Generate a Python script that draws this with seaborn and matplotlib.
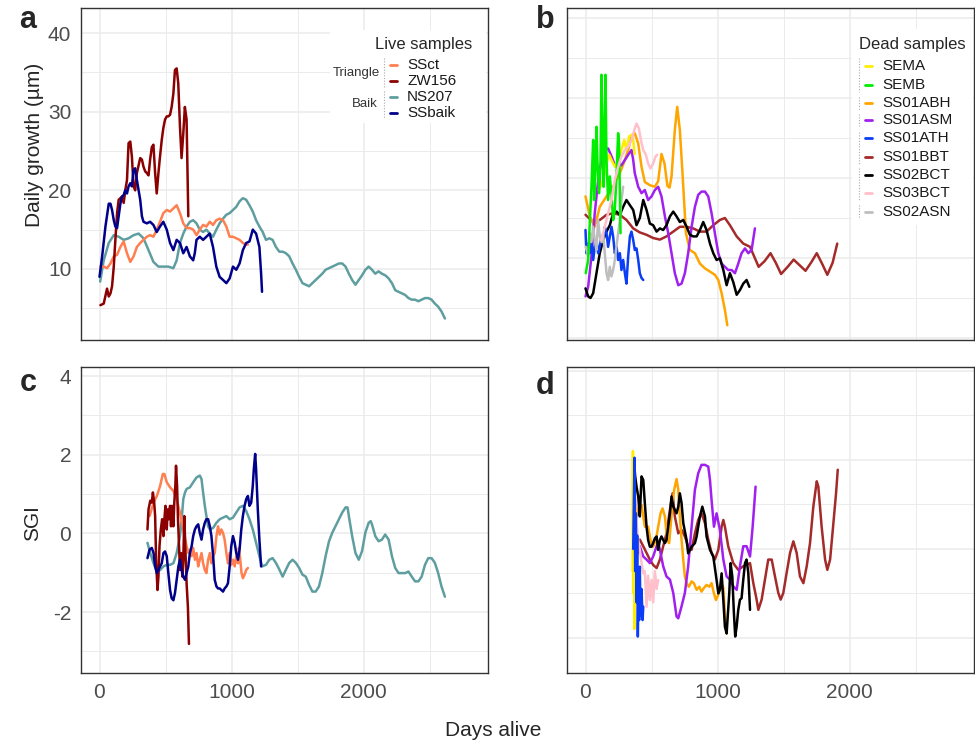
import pandas as pd
import matplotlib.pyplot as plt
import seaborn as sns
from matplotlib.lines import Line2D
from matplotlib.patches import Rectangle

# ==============================
# DATA : live samples (panel a = daily growth, panel c = SGI)
# ==============================
ssct_days = [7, 32, 57, 83, 108, 133, 158, 183, 208, 233, 258, 283, 308, 333, 358, 383, 408, 433, 458, 483,
             509, 534, 559, 584, 609, 634, 659, 684, 709, 734, 759, 784, 809, 834, 859, 884, 909, 935, 960, 985,
             1010, 1035, 1060, 1085, 1110, 1123]
ssct_growth = [10.3, 10.3, 10.1, 10.7, 11.6, 11.8, 12.8, 13.5, 12.0, 10.9, 11.6, 12.8, 13.3, 13.7, 14.1, 14.3, 14.1,
               15.0, 16.0, 17.1, 17.5, 17.3, 17.7, 18.1, 17.1, 15.8, 15.2, 15.2, 15.0, 14.3, 15.0, 15.6, 15.4, 16.0,
               15.6, 16.2, 16.4, 16.2, 15.4, 14.1, 14.1, 13.9, 13.7, 13.3, 13.1, 13.1]

zw156_days = [7, 32, 57, 70, 83, 95, 108, 120, 133, 145, 158, 170, 183, 195, 208, 220, 233, 245, 258, 270,
              283, 296, 308, 321, 333, 346, 358, 371, 383, 396, 408, 421, 433, 446, 458, 471, 483, 496, 509, 521,
              534, 546, 559, 571, 584, 596, 609, 621, 634, 646, 659, 672]
zw156_growth = [5.4, 5.6, 7.5, 6.5, 6.9, 7.8, 10.3, 13.7, 17.1, 18.8, 19.0, 19.2, 18.4, 20.0, 21.3, 26.0, 26.2, 24.3,
                20.5, 20.0, 22.2, 23.2, 24.1, 23.9, 23.0, 22.4, 22.2, 21.9, 23.9, 25.5, 25.8, 22.2, 19.6, 22.2, 24.3,
                26.4, 27.9, 29.0, 29.4, 29.4, 29.6, 30.6, 32.3, 35.3, 35.5, 33.6, 28.1, 24.1, 27.2, 30.6, 29.0, 16.7]

ns207_days = [5, 32, 70, 108, 145, 183, 220, 258, 296, 333, 371, 408, 446, 483, 521, 559, 584, 609, 634, 659,
              684, 709, 734, 759, 784, 809, 834, 859, 884, 909, 935, 960, 985, 1010, 1035, 1060, 1085, 1110, 1135,
              1160, 1185, 1210, 1235, 1260, 1285, 1310, 1335, 1361, 1386, 1411, 1436, 1461, 1486, 1511, 1536, 1586,
              1611, 1636, 1661, 1686, 1711, 1762, 1812, 1837, 1862, 1887, 1912, 1937, 1962, 1987, 2012, 2037, 2062,
              2087, 2112, 2137, 2162, 2188, 2213, 2238, 2263, 2288, 2313, 2338, 2363, 2388, 2413, 2438, 2463, 2488,
              2513, 2538, 2563, 2588, 2614]
ns207_growth = [8.4, 11.1, 13.3, 14.3, 14.1, 13.7, 13.9, 14.3, 14.5, 13.9, 12.4, 10.9, 10.3, 10.3, 10.3, 10.1, 11.1,
                13.3, 14.5, 15.4, 16.0, 16.2, 15.8, 15.0, 14.7, 15.0, 14.5, 14.1, 15.0, 15.8, 16.4, 16.9, 17.1, 17.5,
                17.9, 18.6, 19.0, 18.8, 18.1, 17.3, 16.2, 15.4, 14.7, 13.7, 13.9, 13.7, 12.8, 12.2, 12.2, 12.0, 11.6,
                10.7, 9.9, 9.0, 8.2, 7.8, 8.2, 8.6, 9.0, 9.4, 9.9, 10.3, 10.7, 10.7, 10.3, 9.4, 8.6, 8.0, 8.6, 9.2,
                9.9, 10.3, 9.9, 9.4, 9.7, 9.4, 9.2, 8.8, 8.2, 7.3, 7.1, 6.9, 6.7, 6.3, 6.1, 6.1, 5.9, 6.1, 6.3, 6.3,
                6.1, 5.6, 5.2, 4.6, 3.7]

ssbaik_days = [0, 20, 45, 70, 83, 95, 108, 120, 133, 145, 158, 170, 183, 195, 208, 220, 233, 245, 258, 270,
               283, 296, 308, 321, 333, 358, 383, 408, 433, 458, 483, 509, 534, 559, 584, 609, 634, 659, 684, 709,
               721, 734, 759, 784, 809, 834, 859, 884, 909, 935, 960, 985, 1010, 1035, 1060, 1085, 1110, 1135, 1160,
               1185, 1210, 1223, 1230]
ssbaik_growth = [9.0, 11.6, 15.4, 18.3, 18.3, 17.5, 16.2, 15.4, 15.2, 16.7, 18.3, 19.2, 19.4, 20.0, 19.6, 20.5, 20.9,
                 20.5, 22.6, 22.8, 21.3, 20.0, 18.8, 16.7, 16.0, 15.8, 16.0, 15.6, 14.7, 15.4, 16.0, 15.0, 13.3, 12.4,
                 13.7, 13.3, 12.0, 12.8, 11.6, 11.1, 12.0, 13.7, 14.1, 13.7, 14.1, 14.5, 12.8, 10.3, 9.0, 8.6, 8.2,
                 8.8, 10.3, 9.9, 10.7, 12.4, 13.3, 13.5, 15.0, 14.5, 12.8, 9.4, 7.1]

ssct_sgi_days = [379, 409, 434, 459, 479, 491, 509, 534, 559, 584, 609, 634, 659, 672, 684, 697, 709, 722, 734, 747,
                 759, 772, 784, 797, 809, 822, 835, 847, 860, 872, 885, 897, 910, 922, 935, 947, 960, 972, 985, 997,
                 1010, 1023, 1035, 1048, 1055, 1065, 1075, 1085, 1098, 1110, 1123]
ssct_sgi = [0.44, 0.78, 0.95, 1.21, 1.51, 1.51, 1.30, 1.17, 1.08, 0.87, 0.53, 0.10, -0.33, -0.50, -0.41, -0.58, -0.37,
            -0.67, -0.50, -0.84, -0.67, -0.50, -0.76, -0.93, -1.01, -0.67, -0.50, -0.76, -0.58, -0.50, -0.07, 0.18,
            -0.03, 0.10, 0.01, -0.16, -0.50, -0.76, -0.50, -0.80, -0.67, -0.84, -0.58, -0.76, -0.37, -0.67, -1.01,
            -1.14, -1.05, -0.93, -0.88]

zw156_sgi_days = [363, 371, 384, 396, 404, 414, 421, 429, 439, 446, 454, 464, 474, 484, 491, 499, 509, 516, 524, 534,
                  541, 549, 559, 566, 574, 579, 587, 594, 602, 609, 617, 627, 634, 642, 649, 659, 669, 677]
zw156_sgi = [0.10, 0.61, 0.83, 0.78, 1.04, 0.78, 0.44, -0.76, -1.44, -1.10, -0.33, 0.10, 0.36, -0.07, 0.36, 0.70,
             0.10, 0.61, 0.36, 0.70, 0.18, 0.70, 0.18, 0.78, 1.21, 1.72, 1.21, 0.36, -0.33, -0.93, -0.50, -1.10,
             -0.67, 0.44, -0.33, -1.27, -1.87, -2.81]

ns207_sgi_days = [363, 384, 409, 434, 459, 484, 509, 534, 559, 584, 609, 622, 634, 647, 659, 684, 709, 734, 759, 772,
                  784, 797, 809, 822, 835, 860, 885, 910, 935, 960, 985, 1010, 1035, 1060, 1085, 1110, 1135, 1160,
                  1185, 1210, 1230, 1260, 1285, 1310, 1335, 1361, 1386, 1411, 1436, 1461, 1486, 1511, 1536, 1561,
                  1586, 1611, 1636, 1661, 1686, 1711, 1737, 1762, 1787, 1812, 1837, 1862, 1877, 1887, 1912, 1937,
                  1962, 1987, 2012, 2037, 2052, 2062, 2087, 2112, 2137, 2162, 2188, 2213, 2238, 2263, 2288, 2313,
                  2338, 2363, 2388, 2413, 2438, 2463, 2488, 2513, 2538, 2563, 2588, 2614]
ns207_sgi = [-0.24, -0.50, -0.76, -0.97, -0.93, -0.84, -0.80, -0.80, -0.76, -0.50, -0.07, 0.36, 0.87, 1.04, 1.13,
             1.17, 1.30, 1.42, 1.47, 1.38, 1.04, 0.70, 0.44, 0.18, 0.10, 0.14, 0.27, 0.36, 0.40, 0.44, 0.36, 0.40,
             0.53, 0.66, 0.70, 0.57, 0.36, 0.10, -0.24, -0.58, -0.84, -0.80, -0.67, -0.63, -0.75, -0.92, -1.10,
             -0.92, -0.75, -0.67, -0.75, -0.88, -1.05, -1.10, -1.31, -1.48, -1.48, -1.35, -1.01, -0.58, -0.20, 0.02,
             0.19, 0.36, 0.53, 0.66, 0.66, 0.44, -0.07, -0.50, -0.67, -0.45, 0.02, 0.27, 0.31, 0.23, -0.07, -0.20,
             -0.16, -0.03, -0.16, -0.58, -0.88, -1.01, -1.01, -1.01, -0.97, -1.10, -1.22, -1.22, -1.10, -0.80,
             -0.63, -0.63, -0.75, -1.01, -1.35, -1.61]

ssbaik_sgi_days = [363, 379, 396, 409, 421, 434, 446, 459, 471, 484, 496, 509, 521, 534, 546, 559, 571, 584, 597, 609,
                   622, 634, 647, 659, 672, 684, 697, 709, 722, 734, 747, 759, 772, 784, 797, 809, 822, 835, 847, 860,
                   872, 885, 897, 910, 922, 935, 947, 960, 972, 985, 997, 1010, 1023, 1035, 1048, 1060, 1073, 1085,
                   1098, 1110, 1123, 1135, 1148, 1160, 1168, 1178, 1185, 1198, 1210, 1223]
ssbaik_sgi = [-0.63, -0.41, -0.37, -0.50, -0.84, -1.01, -0.93, -0.84, -0.76, -0.50, -0.46, -0.58, -1.01, -1.44, -1.65,
              -1.70, -1.52, -1.18, -0.84, -0.67, -0.93, -1.10, -1.18, -1.01, -0.84, -0.50, -0.33, -0.07, 0.10, 0.18,
              0.23, 0.01, -0.16, 0.10, 0.27, 0.36, 0.36, 0.18, -0.07, -0.58, -1.18, -1.35, -1.40, -1.40, -1.44,
              -1.48, -1.40, -1.35, -1.27, -0.84, -0.33, -0.07, -0.24, -0.50, -0.67, -0.41, 0.10, 0.44, 0.70, 0.87,
              0.95, 0.70, 0.78, 1.21, 1.64, 2.02, 1.64, 0.61, -0.16, -0.84]

# ==============================
# DATA : dead samples (panel b = daily growth, panel d = SGI)
# ==============================
sema_days = [100, 134, 159, 179, 197, 222, 247, 272, 293, 310, 330, 348, 361, 372]
sema_growth = [18.5, 19.75, 21.8, 22.9, 22.25, 21.4, 22.25, 23.5, 24.75, 23.5, 25.2, 25.4, 24.75, 23.0]

semb_days = [2, 20, 32, 45, 58, 65, 75, 83, 90, 103, 113, 121, 128, 138, 151, 159, 171, 184, 196, 209, 222, 234,
             247, 254, 265]
semb_growth = [8.1, 9.75, 14.3, 18.9, 24.75, 17.25, 21.0, 26.4, 22.25, 18.1, 21.4, 32.9, 26.4, 18.9, 32.9, 22.25,
               17.25, 20.2, 18.1, 14.75, 16.0, 20.2, 25.6, 24.3, 13.1]

ss01abh_days = [0, 33, 70, 108, 159, 209, 260, 298, 323, 348, 373, 399, 424, 449, 487, 525, 550, 575, 598, 620,
                636, 651, 676, 694, 714, 734, 760, 790, 828, 866, 904, 942, 979, 1005, 1030, 1055, 1073]
ss01abh_growth = [17.7, 15.2, 13.9, 16.4, 17.7, 18.9, 20.6, 22.25, 23.5, 25.2, 25.6, 24.3, 21.4, 19.5, 19.1, 18.9,
                  19.6, 23.0, 21.8, 19.0, 18.8, 20.2, 26.0, 28.9, 26.0, 20.6, 13.1, 11.0, 10.6, 9.3, 8.7, 8.3, 7.9,
                  7.25, 5.6, 3.5, 1.6]

ss01asm_days = [0, 20, 45, 70, 96, 121, 146, 171, 197, 222, 247, 272, 298, 323, 348, 361, 373, 399, 424, 449,
                474, 500, 525, 550, 575, 601, 626, 651, 676, 702, 727, 752, 777, 803, 828, 853, 878, 904, 929, 954,
                979, 1005, 1030, 1055, 1080, 1106, 1131, 1156, 1181, 1207, 1232, 1257, 1282]
ss01asm_growth = [5.2, 6.4, 10.2, 15.6, 19.75, 22.25, 23.5, 23.7, 22.7, 21.6, 21.6, 21.6, 22.25, 22.9, 23.5, 22.25,
                  20.6, 18.9, 18.1, 18.5, 17.25, 17.7, 18.5, 18.9, 17.7, 15.2, 13.1, 10.6, 8.1, 6.6, 6.8, 8.1, 10.6,
                  13.9, 16.4, 17.9, 18.3, 18.3, 17.7, 15.6, 13.1, 10.6, 9.3, 8.9, 8.5, 8.5, 8.1, 9.3, 10.6, 11.2, 10.6,
                  11.0, 13.7]

ss01ath_days = [0, 7, 20, 33, 45, 58, 70, 83, 96, 108, 121, 134, 146, 159, 171, 184, 197, 209, 222, 235, 247, 260,
                272, 285, 298, 310, 323, 336, 348, 361, 373, 386, 399, 411, 424, 437]
ss01ath_growth = [13.5, 10.6, 11.8, 10.6, 12.25, 9.75, 11.4, 12.25, 10.6, 11.4, 12.7, 12.25, 13.9, 13.1, 11.4, 12.7,
                  13.9, 12.7, 10.6, 11.4, 9.75, 10.6, 8.5, 9.75, 8.1, 6.8, 10.2, 12.7, 13.3, 12.25, 11.0, 11.2, 9.75,
                  8.1, 7.5, 7.25]

ss01bbt_days = [0, 58, 108, 159, 209, 260, 310, 361, 411, 462, 512, 563, 613, 664, 714, 765, 815, 866, 916, 967,
                1017, 1055, 1093, 1144, 1194, 1245, 1310, 1355, 1400, 1440, 1480, 1530, 1575, 1620, 1665, 1710,
                1750, 1790, 1830, 1870, 1905]
ss01bbt_growth = [15.4, 14.5, 14.75, 15.4, 15.6, 15.4, 14.75, 13.7, 13.2, 12.9, 12.5, 12.3, 12.7, 13.3, 13.9, 13.9,
                  13.7, 13.3, 13.3, 14.1, 14.75, 15.0, 14.1, 12.7, 11.8, 11.4, 8.9, 9.6, 10.6, 9.4, 8.0, 8.9, 9.8,
                  9.1, 8.4, 9.5, 10.6, 9.3, 7.9, 9.4, 11.8]

ss02bct_days = [0, 20, 38, 58, 83, 108, 134, 159, 184, 209, 235, 260, 285, 310, 336, 361, 386, 411, 437, 462,
                487, 512, 538, 563, 588, 613, 639, 664, 689, 714, 740, 765, 790, 815, 841, 866, 891, 916, 942, 967,
                992, 1017, 1043, 1068, 1093, 1118, 1144, 1169, 1194, 1219, 1240]
ss02bct_growth = [6.2, 5.2, 5.0, 5.6, 8.1, 10.6, 12.25, 13.3, 14.1, 15.6, 15.8, 15.4, 16.4, 17.25, 16.6, 16.0, 14.1,
                  15.0, 17.25, 16.0, 14.3, 14.1, 13.3, 13.7, 13.5, 14.1, 15.2, 15.8, 15.2, 14.5, 14.75, 13.9, 12.9,
                  12.7, 12.7, 13.5, 14.5, 13.5, 11.8, 10.6, 9.75, 9.96, 8.5, 6.6, 8.1, 7.0, 5.4, 6.0, 6.8, 7.25, 6.4]

ss03bct_days = [121, 146, 171, 197, 222, 247, 272, 298, 323, 348, 373, 386, 404, 419, 437, 457, 474, 492, 512, 530,
                543]
ss03bct_growth = [12.25, 13.9, 15.6, 17.25, 19.75, 21.4, 22.7, 23.5, 23.9, 24.75, 26.2, 26.8, 26.2, 24.75, 23.5,
                  22.9, 21.8, 21.2, 21.8, 22.7, 22.9]

ss02asn_days = [2, 20, 32, 45, 58, 70, 83, 95, 108, 121, 133, 146, 159, 171, 184, 196, 209, 222, 234, 247, 260,
                272, 285]
ss02asn_growth = [11.4, 10.2, 13.1, 12.0, 13.9, 12.25, 11.0, 14.75, 12.7, 12.0, 13.1, 10.6, 8.1, 7.25, 8.9, 7.7,
                  8.5, 9.75, 11.4, 13.1, 14.75, 17.25, 18.9]

sema_sgi_days = [357, 359, 361, 363, 365, 367, 369, 371]
sema_sgi = [-0.5, 2.2, 0.3, 1.6, -1.0, 0.8, -1.8, -0.9]

ss01abh_sgi_days = [368, 386, 404, 424, 449, 474, 492, 512, 533, 550, 568, 583, 601, 618, 633, 646, 659, 671, 689,
                    702, 714, 727, 740, 752, 765, 782, 803, 820, 841, 861, 878, 896, 916, 937, 954, 972, 987, 1005,
                    1017, 1030, 1043, 1055, 1068]
ss01abh_sgi = [0.50, 0.73, 0.95, 0.99, 0.50, 0.50, 0.20, 0.05, 0.20, 0.50, 0.80, 0.91, 0.73, 0.20, 0.13, 0.58, 1.03,
               1.33, 1.57, 1.33, 0.73, 0.20, -0.25, -0.62, -0.77, -0.85, -0.73, -0.77, -0.92, -0.85, -0.96, -0.88,
               -0.81, -0.85, -0.77, -1.00, -1.15, -1.03, -0.92, -0.77, -0.88, -1.45, -1.90]

ss01asm_sgi_days = [361, 368, 378, 386, 399, 411, 437, 462, 487, 512, 538, 550, 563, 588, 613, 639, 664, 689, 702,
                    727, 752, 777, 803, 828, 853, 878, 904, 929, 942, 954, 972, 992, 1017, 1043, 1068, 1093, 1118,
                    1144, 1169, 1194, 1219, 1245, 1265, 1287]
ss01asm_sgi = [1.10, 1.40, 0.88, 0.21, -0.09, 0.06, -0.17, -0.24, -0.32, -0.17, 0.06, 0.13, -0.02, -0.39, -0.62,
               -0.69, -0.99, -1.52, -1.56, -1.29, -0.99, -0.39, 0.50, 1.33, 1.70, 1.89, 1.89, 1.85, 1.55, 1.10, 0.50,
               0.80, 0.43, -0.24, -0.62, -0.69, -0.84, -0.92, -0.39, 0.06, 0.06, -0.17, 0.50, 1.40]

ss01ath_sgi_days = [361, 366, 371, 376, 381, 386, 391, 396, 401, 406, 411, 416, 424, 432, 437]
ss01ath_sgi = [0.0, 1.0, 2.05, -0.5, 0.8, -1.2, 0.3, -1.97, -0.8, -1.6, -0.4, -1.5, -0.9, -1.6, -1.3]

ss01bbt_sgi_days = [366, 373, 386, 411, 437, 462, 487, 512, 538, 563, 588, 613, 639, 659, 676, 702, 727, 752, 777,
                    803, 828, 853, 878, 904, 929, 954, 979, 1005, 1030, 1043, 1055, 1080, 1118, 1156, 1194, 1245,
                    1270, 1295, 1308, 1333, 1358, 1383, 1409, 1434, 1459, 1477, 1497, 1522, 1548, 1573, 1598, 1623,
                    1649, 1674, 1699, 1724, 1750, 1762, 1787, 1813, 1830, 1851, 1876, 1896, 1909]
ss01bbt_sgi = [-0.92, -0.24, 0.06, 0.21, 0.06, -0.09, -0.24, -0.36, -0.43, -0.24, 0.06, 0.35, 0.88, 1.25, 0.73, 0.35,
               0.43, 0.28, 0.06, -0.02, 0.35, 0.65, 0.80, 0.58, 0.21, -0.09, -0.24, -0.02, 0.50, 0.65, 0.50, 0.06,
               -0.32, -0.47, -0.39, -0.32, -0.77, -1.14, -1.37, -1.14, -0.69, -0.24, -0.24, -0.62, -0.99, -1.14,
               -0.99, -0.54, -0.09, 0.17, -0.09, -0.62, -0.77, -0.39, 0.13, 0.95, 1.52, 1.40, 0.50, -0.24, -0.47,
               -0.24, 0.58, 1.25, 1.78]

ss02bct_sgi_days = [361, 368, 376, 386, 399, 411, 424, 437, 449, 462, 474, 487, 500, 512, 525, 538, 550, 563, 575,
                    588, 601, 613, 626, 639, 651, 664, 676, 689, 702, 714, 727, 740, 765, 777, 803, 828, 841, 853,
                    866, 884, 904, 916, 942, 967, 992, 1005, 1017, 1030, 1043, 1055, 1068, 1088, 1098, 1111, 1123,
                    1133, 1144, 1156, 1169, 1181, 1194, 1207, 1219, 1232, 1245]
ss02bct_sgi = [1.70, 1.93, 1.63, 1.40, 1.18, 0.73, 1.63, 1.55, 1.03, 0.50, 0.20, 0.05, 0.05, 0.13, 0.24, 0.28, -0.02,
               0.20, 0.28, 0.20, 0.13, 0.20, 0.50, 0.80, 1.18, 0.95, 0.88, 0.80, 0.95, 1.25, 1.03, 0.58, 0.20, -0.10,
               0.05, 0.13, 0.28, 0.50, 0.73, 0.95, 0.73, 0.28, -0.02, -0.17, -0.70, -1.00, -0.92, -0.55, -1.15,
               -1.75, -1.90, -0.99, -0.32, -0.62, -1.44, -1.97, -1.74, -1.37, -1.14, -1.11, -0.69, -0.32, -0.24,
               -0.54, -1.37]

ss03bct_sgi_days = [368, 378, 386, 399, 411, 424, 437, 449, 462, 474, 487, 500, 512, 525, 538, 550]
ss03bct_sgi = [1.70, 0.95, 0.58, 0.20, -0.02, -0.32, -0.55, -0.50, -1.30, -0.60, -1.15, -0.70, -1.20, -0.50, -0.90,
               -0.70]

# ==============================
# NAMES / COLOURS
# ==============================
live_names = ["SSct", "ZW156", "NS207", "SSbaik"]
live_colors = ["#FF7F50", "#8B0000", "#5F9EA0", "#00008B"]
dead_names = ["SEMA", "SEMB", "SS01ABH", "SS01ASM", "SS01ATH", "SS01BBT", "SS02BCT", "SS03BCT", "SS02ASN"]
dead_colors = ["#FFEE00", "#00EE00", "#FFA500", "#A020F0", "#0A3DF5", "#A52A2A", "#000000", "#FFC0CB", "#BEBEBE"]

live_pal = dict(zip(live_names, live_colors))
dead_pal = dict(zip(dead_names, dead_colors))


def long_frame(pairs):
    frames = [pd.DataFrame({"sample": name, "days": d, "value": v}) for name, d, v in pairs]
    return pd.concat(frames, ignore_index=True)


df_a = long_frame([("SSct", ssct_days, ssct_growth), ("ZW156", zw156_days, zw156_growth),
                   ("NS207", ns207_days, ns207_growth), ("SSbaik", ssbaik_days, ssbaik_growth)])
df_c = long_frame([("SSct", ssct_sgi_days, ssct_sgi), ("ZW156", zw156_sgi_days, zw156_sgi),
                   ("NS207", ns207_sgi_days, ns207_sgi), ("SSbaik", ssbaik_sgi_days, ssbaik_sgi)])
df_b = long_frame([("SEMA", sema_days, sema_growth), ("SEMB", semb_days, semb_growth),
                   ("SS01ABH", ss01abh_days, ss01abh_growth), ("SS01ASM", ss01asm_days, ss01asm_growth),
                   ("SS01ATH", ss01ath_days, ss01ath_growth), ("SS01BBT", ss01bbt_days, ss01bbt_growth),
                   ("SS02BCT", ss02bct_days, ss02bct_growth), ("SS03BCT", ss03bct_days, ss03bct_growth),
                   ("SS02ASN", ss02asn_days, ss02asn_growth)])
df_d = long_frame([("SEMA", sema_sgi_days, sema_sgi), ("SS01ABH", ss01abh_sgi_days, ss01abh_sgi),
                   ("SS01ASM", ss01asm_sgi_days, ss01asm_sgi), ("SS01ATH", ss01ath_sgi_days, ss01ath_sgi),
                   ("SS01BBT", ss01bbt_sgi_days, ss01bbt_sgi), ("SS02BCT", ss02bct_sgi_days, ss02bct_sgi),
                   ("SS03BCT", ss03bct_sgi_days, ss03bct_sgi)])

live_order = ["NS207", "SSct", "ZW156", "SSbaik"]
dead_order_b = ["SS01BBT", "SS01ABH", "SS01ASM", "SS02BCT", "SS01ATH", "SS02ASN", "SEMA", "SEMB", "SS03BCT"]
dead_order_d = ["SS01BBT", "SS01ABH", "SS01ASM", "SS03BCT", "SS02BCT", "SEMA", "SS01ATH"]

# ==============================
# FIGURE
# ==============================
sns.set_theme(style="white")
plt.rcParams["font.family"] = ["Liberation Sans", "DejaVu Sans"]
plt.rcParams["axes.unicode_minus"] = False

W, H = 975, 743
fig = plt.figure(figsize=(W / 100, H / 100), dpi=100)


def box(l, t, r, b):
    return [l / W, 1 - b / H, (r - l) / W, (b - t) / H]


ax_a = fig.add_axes(box(81, 8, 488, 340))
ax_b = fig.add_axes(box(567, 8, 974, 340))
ax_c = fig.add_axes(box(81, 367, 488, 673))
ax_d = fig.add_axes(box(567, 367, 974, 673))

LW = 1.8
sns.lineplot(data=df_a, x="days", y="value", hue="sample", hue_order=live_order, palette=live_pal,
             estimator=None, lw=LW, legend=False, ax=ax_a)
sns.lineplot(data=df_c, x="days", y="value", hue="sample", hue_order=live_order, palette=live_pal,
             estimator=None, lw=LW, legend=False, ax=ax_c)
sns.lineplot(data=df_b, x="days", y="value", hue="sample", hue_order=dead_order_b, palette=dead_pal,
             estimator=None, lw=LW, legend=False, ax=ax_b)
sns.lineplot(data=df_d, x="days", y="value", hue="sample", hue_order=dead_order_d, palette=dead_pal,
             estimator=None, lw=LW, legend=False, ax=ax_d)

y_setup = {
    ax_a: ((0.97, 43.18), [10, 20, 30, 40], [5, 15, 25, 35]),
    ax_b: ((-0.25, 41.25), [0, 10, 20, 30, 40], [5, 15, 25, 35]),
    ax_c: ((-3.55, 4.23), [-2, 0, 2, 4], [-3, -1, 1, 3]),
    ax_d: ((-2.79, 4.09), [-2, 0, 2, 4], [-1, 1, 3]),
}
for ax, (ylim, ymaj, ymin) in y_setup.items():
    ax.set_xlim(-140, 2940)
    ax.set_ylim(*ylim)
    ax.set_xticks([0, 1000, 2000])
    ax.set_xticks([500, 1500, 2500], minor=True)
    ax.set_yticks(ymaj)
    ax.set_yticks(ymin, minor=True)
    ax.grid(True, which="major", color="#EBEBEB", lw=1.1)
    ax.grid(True, which="minor", color="#EBEBEB", lw=0.7)
    ax.set_axisbelow(True)
    ax.set_xlabel("")
    ax.set_ylabel("")
    for sp in ax.spines.values():
        sp.set_color("#333333")
        sp.set_linewidth(1.0)
    ax.tick_params(which="major", length=4, width=1.0, color="#333333", labelsize=15, labelcolor="#4D4D4D",
                   direction="out", pad=3)
    ax.tick_params(which="minor", length=0)

ax_a.tick_params(axis="x", labelbottom=False, length=0)
ax_b.tick_params(axis="x", labelbottom=False, length=0)
ax_b.tick_params(axis="y", labelleft=False, length=0)
ax_d.tick_params(axis="y", labelleft=False, length=0)

# axis titles and panel letters
fig.text(35 / W, 1 - 145 / H, "Daily growth (µm)", rotation=90, ha="center", va="center", fontsize=15)
fig.text(33 / W, 1 - 523 / H, "SGI", rotation=90, ha="center", va="center", fontsize=15)
fig.text(493 / W, 1 - 731 / H, "Days alive", ha="center", va="center", fontsize=15)
for letter, (px, py) in {"a": (28, 20), "b": (545, 20), "c": (28, 383), "d": (545, 386)}.items():
    fig.text(px / W, 1 - py / H, letter, ha="center", va="center", fontsize=22, fontweight="bold")


def fpt(x, y):
    return x / W, 1 - y / H


def key_line(x1, x2, y, color, lw=2.0, ls="-"):
    xa, ya = fpt(x1, y)
    xb, _ = fpt(x2, y)
    fig.add_artist(Line2D([xa, xb], [ya, ya], color=color, lw=lw, ls=ls, transform=fig.transFigure))


def vdots(x, y1, y2):
    xa, ya = fpt(x, y1)
    _, yb = fpt(x, y2)
    fig.add_artist(Line2D([xa, xa], [ya, yb], color="#AAAAAA", lw=0.8, ls=(0, (1, 1.5)),
                          transform=fig.transFigure))


# live legend
fig.add_artist(Rectangle(fpt(330, 123), 156 / W, 93 / H, facecolor="white", edgecolor="none",
                         transform=fig.transFigure))
fig.text(*fpt(424, 45), "Live samples", ha="center", va="center", fontsize=12)
live_rows = [65, 81, 97, 113]
for name, col, ry in zip(live_names, live_colors, live_rows):
    key_line(390, 397, ry, col)
    fig.text(*fpt(407, ry), name, ha="left", va="center", fontsize=11, color="#1A1A1A")
fig.text(*fpt(380, 73), "Triangle", ha="right", va="center", fontsize=9.5, color="#333333")
fig.text(*fpt(378, 104), "Baik", ha="right", va="center", fontsize=9.5, color="#333333")
vdots(384, 58, 87)
vdots(384, 91, 118)

# dead legend
fig.add_artist(Rectangle(fpt(852, 225), 121 / W, 196 / H, facecolor="white", edgecolor="none",
                         transform=fig.transFigure))
fig.text(*fpt(912, 45), "Dead samples", ha="center", va="center", fontsize=12)
dead_rows = [66, 85, 103, 120, 138, 157, 175, 193, 212]
for name, col, ry in zip(dead_names, dead_colors, dead_rows):
    key_line(865, 872, ry, col)
    fig.text(*fpt(882, ry), name, ha="left", va="center", fontsize=11, color="#1A1A1A")
vdots(859, 58, 92)
vdots(859, 97, 110)
vdots(859, 114, 126)
vdots(859, 132, 164)
vdots(859, 168, 200)
vdots(859, 205, 219)

fig.savefig("out.png", dpi=100)
